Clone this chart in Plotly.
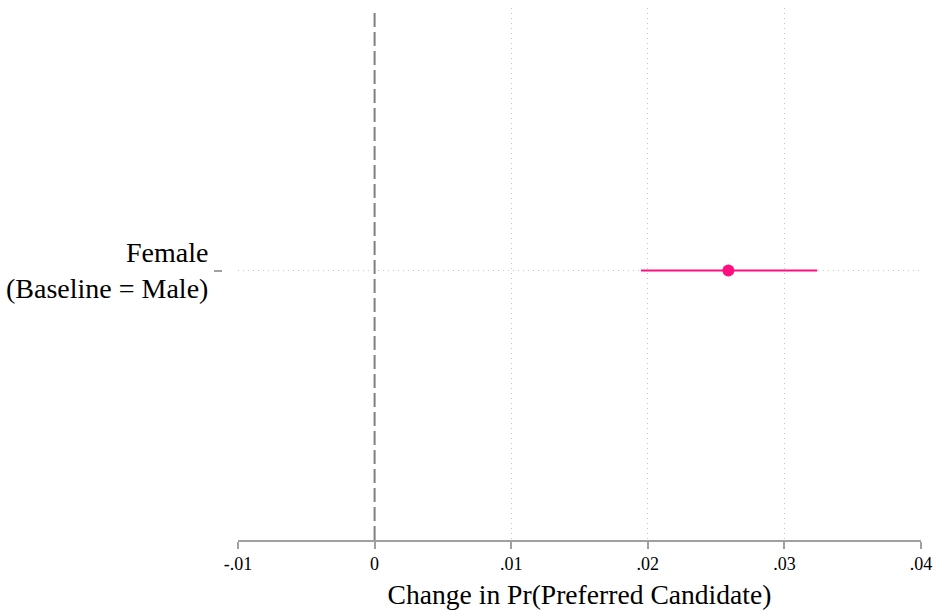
import plotly.graph_objects as go

labels = ["Female<br>(Baseline = Male)"]
ypos = [1]
estimates = [0.0259]
ci_low = [0.0195]
ci_high = [0.0324]
xticks = [-0.01, 0, 0.01, 0.02, 0.03, 0.04]
xticklabels = ["-.01", "0", ".01", ".02", ".03", ".04"]
grid_vals = [0.01, 0.02, 0.03]

font = "Liberation Serif"
W, H = 933, 614
ml, mr, mt, mb = 200, 12, 8, 74
pw = W - ml - mr
x_dom_start = (238 - ml) / pw
y_pos = (222 - ml) / pw

fig = go.Figure()
fig.add_trace(go.Scatter(
    x=estimates, y=ypos, mode="markers",
    marker=dict(color="#ff0f80", size=12),
    error_x=dict(type="data", symmetric=False,
                 array=[h - e for h, e in zip(ci_high, estimates)],
                 arrayminus=[e - l for e, l in zip(estimates, ci_low)],
                 color="#ff0f80", thickness=2, width=0),
    showlegend=False,
))
fig.add_vline(x=0, line=dict(color="#7f7f7f", width=2, dash="14px,5px"), layer="below")

fig.update_layout(
    width=W, height=H,
    margin=dict(l=ml, r=mr, t=mt, b=mb),
    plot_bgcolor="white", paper_bgcolor="white",
    font=dict(family=font, color="black"),
    xaxis=dict(
        domain=[x_dom_start, 1],
        range=[-0.01, 0.04],
        automargin=False,
        ticklabeloverflow="allow",
        tickvals=xticks, ticktext=xticklabels,
        tickfont=dict(size=18, family=font),
        showline=True, linecolor="#a0a0a0", linewidth=1.5,
        ticks="outside", ticklen=7, tickcolor="#a0a0a0", tickwidth=1.5,
        showgrid=False, zeroline=False,
        minor=dict(tickmode="array", tickvals=grid_vals, showgrid=True,
                   gridcolor="#c8c8c8", griddash="1px,4px", gridwidth=1, ticks=""),
        title=dict(text="Change in Pr(Preferred Candidate)",
                   font=dict(size=27.6, family=font), standoff=11),
    ),
    yaxis=dict(
        anchor="free", position=y_pos,
        range=[0.5, 1.487],
        automargin=False,
        tickvals=ypos, ticktext=labels,
        tickfont=dict(size=28, family=font),
        showline=False, zeroline=False,
        ticks="outside", ticklen=8, tickcolor="#a0a0a0", tickwidth=1.5,
        showgrid=True, gridcolor="#c8c8c8", griddash="1px,4px", gridwidth=1,
    ),
)

fig.write_html("out.html")
